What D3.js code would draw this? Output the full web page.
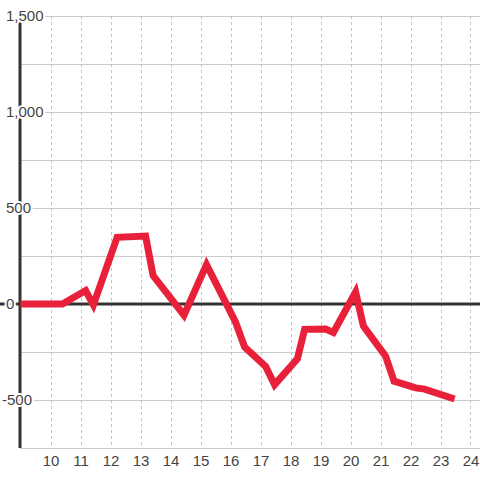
<!DOCTYPE html>
<html><head><meta charset="utf-8">
<script src="https://cdn.jsdelivr.net/npm/d3@7"></script>
<style>body{margin:0;background:#fff}svg{display:block}text{font-family:"Liberation Sans",Arial,sans-serif}</style>
</head><body><svg id="c" width="480" height="480"></svg>
<script>
const xs = [9.0,10.4,11.17,11.43,12.22,13.17,13.42,14.45,15.2,16.17,16.47,17.17,17.47,18.23,18.47,19.17,19.43,20.17,20.43,21.17,21.45,22.17,22.47,23.47];
const ys = [0,0,70,-5,347,354,148,-58,205,-95,-224,-325,-420,-285,-132,-130,-148,62,-115,-272,-402,-437,-443,-495];
const xTicks = [10,11,12,13,14,15,16,17,18,19,20,21,22,23,24];
const yGrid = [-750,-500,-250,0,250,500,750,1000,1250,1500];
const yLabels = [-500,0,500,1000,1500];

const svg = d3.select("#c");
const x = d3.scaleLinear().domain([9, 24.3]).range([20.5, 479.5]);
const y = d3.scaleLinear().domain([-750, 1500]).range([448, 16]);

// horizontal grid
svg.append("g").selectAll("line").data(yGrid).join("line")
  .attr("x1", 20).attr("x2", 480)
  .attr("y1", d => y(d) + 0.5).attr("y2", d => y(d) + 0.5)
  .attr("stroke", "#cccccc").attr("stroke-width", 1);

// vertical dotted grid
svg.append("g").selectAll("line").data(xTicks).join("line")
  .attr("x1", d => Math.round(x(d)) + 0.5).attr("x2", d => Math.round(x(d)) + 0.5)
  .attr("y1", 16).attr("y2", 448)
  .attr("stroke", "#c4c4c4").attr("stroke-width", 1).attr("stroke-dasharray", "3,3");

// zero line
svg.append("line").attr("x1", 0).attr("x2", 480)
  .attr("y1", y(0)).attr("y2", y(0))
  .attr("stroke", "#333").attr("stroke-width", 3);

// y axis line
svg.append("line").attr("x1", 20).attr("x2", 20)
  .attr("y1", 16).attr("y2", 448)
  .attr("stroke", "#333").attr("stroke-width", 3);

// data line
const data = xs.map((v, i) => [v, ys[i]]);
svg.append("path").datum(data)
  .attr("d", d3.line().x(d => x(d[0])).y(d => y(d[1])))
  .attr("fill", "none").attr("stroke", "#e8203a").attr("stroke-width", 7)
  .attr("stroke-linejoin", "miter").attr("stroke-miterlimit", 10);

// y labels with white halo
svg.append("g").selectAll("text").data(yLabels).join("text")
  .attr("x", d => d < 0 ? 2 : 6).attr("y", d => y(d)).attr("dy", "0.36em")
  .attr("font-size", 15).attr("fill", "#444")
  .attr("stroke", "#fff").attr("stroke-width", 4).attr("paint-order", "stroke")
  .text(d => d3.format(",")(d).replace("−", "-"));

// x labels
svg.append("g").selectAll("text").data(xTicks).join("text")
  .attr("x", d => x(d) + 0.5).attr("y", 466)
  .attr("text-anchor", "middle").attr("font-size", 15).attr("fill", "#444")
  .text(d => d);
</script></body></html>
